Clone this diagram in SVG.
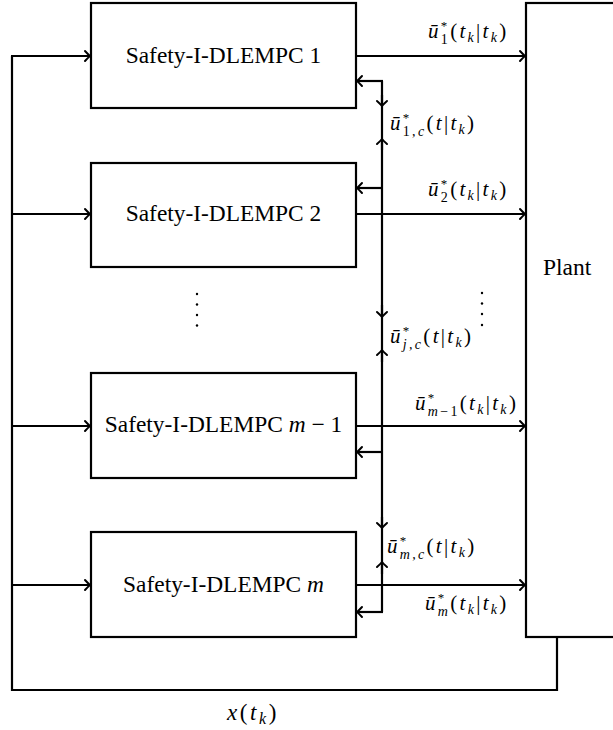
<svg xmlns="http://www.w3.org/2000/svg" width="613" height="730" viewBox="0 0 613 730">
<style>
.box{fill:#fff;stroke:#000;stroke-width:2.2}
.ln{fill:none;stroke:#000;stroke-width:2.2}
.arr{fill:none;stroke:#000;stroke-width:2.2;marker-end:url(#ah)}
text{font-family:"Liberation Serif","Times New Roman",serif;fill:#000}
.tb{font-size:23.4px;text-anchor:middle}
.m{font-size:21px;letter-spacing:2.3px}
.i{font-style:italic}
.s{font-size:14px}
.st{font-size:13px}
</style>
<defs>
<marker id="ah" viewBox="-7 -7 9 14" markerWidth="9" markerHeight="14" refX="0" refY="0" orient="auto" markerUnits="userSpaceOnUse">
<path d="M-5,-5 Q-1.5,-1.2 0,0 Q-1.5,1.2 -5,5" fill="none" stroke="#000" stroke-width="2" stroke-linecap="round"/>
</marker>
</defs>

<g id="connectors">
<path class="ln" d="M557,637 V690 H12 V56"/>
<path class="arr" d="M11,56 H90"/>
<path class="arr" d="M12,214 H90"/>
<path class="arr" d="M12,426 H90"/>
<path class="arr" d="M12,585 H90"/>
<path class="arr" d="M356,56 H525"/>
<path class="arr" d="M356,214 H525"/>
<path class="arr" d="M356,426 H525"/>
<path class="arr" d="M356,585 H525"/>
<path class="ln" d="M382,81 V612"/>
<path class="arr" d="M383,81 H357"/>
<path class="arr" d="M382,188 H357"/>
<path class="arr" d="M382,452 H357"/>
<path class="arr" d="M383,612 H357"/>
<path class="arr" d="M382,95 V106"/>
<path class="arr" d="M382,150 V139"/>
<path class="arr" d="M382,305 V317"/>
<path class="arr" d="M382,362 V350"/>
<path class="arr" d="M382,517 V528"/>
<path class="arr" d="M382,574 V562"/>
</g>

<g id="mpc1"><rect class="box" x="91" y="3" width="265" height="105"/><text class="tb" x="223.5" y="63">Safety-I-DLEMPC 1</text></g>
<g id="mpc2"><rect class="box" x="91" y="163" width="265" height="104"/><text class="tb" x="223.5" y="221">Safety-I-DLEMPC 2</text></g>
<g id="mpcm1"><rect class="box" x="91" y="373" width="265" height="105"/><text class="tb" x="223.5" y="432">Safety-I-DLEMPC <tspan class="i">m</tspan> − 1</text></g>
<g id="mpcm"><rect class="box" x="91" y="532" width="265" height="105"/><text class="tb" x="223.5" y="592">Safety-I-DLEMPC <tspan class="i">m</tspan></text></g>
<g id="plant"><rect class="box" x="526" y="3" width="100" height="634"/><text x="543" y="275" font-size="23.5">Plant</text></g>

<g id="dots" fill="#000">
<circle cx="197" cy="294" r="1.2"/><circle cx="197" cy="304.5" r="1.2"/><circle cx="197" cy="315" r="1.2"/><circle cx="197" cy="325.5" r="1.2"/>
<circle cx="482" cy="293" r="1.2"/><circle cx="482" cy="303.5" r="1.2"/><circle cx="482" cy="314" r="1.2"/><circle cx="482" cy="325" r="1.2"/>
</g>

<g id="labels">
<text class="m" x="428" y="38"><tspan class="i">ū</tspan><tspan class="st" dy="-8">*</tspan><tspan class="s" dx="-8.8" dy="13.5">1</tspan><tspan dy="-5.5">(</tspan><tspan class="i">t</tspan><tspan class="s i" dy="4">k</tspan><tspan dy="-4">|</tspan><tspan class="i">t</tspan><tspan class="s i" dy="4">k</tspan><tspan dy="-4">)</tspan></text>
<text class="m" x="428" y="196"><tspan class="i">ū</tspan><tspan class="st" dy="-8">*</tspan><tspan class="s" dx="-8.8" dy="13.5">2</tspan><tspan dy="-5.5">(</tspan><tspan class="i">t</tspan><tspan class="s i" dy="4">k</tspan><tspan dy="-4">|</tspan><tspan class="i">t</tspan><tspan class="s i" dy="4">k</tspan><tspan dy="-4">)</tspan></text>
<text class="m" x="415" y="410"><tspan class="i">ū</tspan><tspan class="st" dy="-8">*</tspan><tspan class="s i" dx="-8.8" dy="13.5">m</tspan><tspan class="s">−</tspan><tspan class="s">1</tspan><tspan dy="-5.5">(</tspan><tspan class="i">t</tspan><tspan class="s i" dy="4">k</tspan><tspan dy="-4">|</tspan><tspan class="i">t</tspan><tspan class="s i" dy="4">k</tspan><tspan dy="-4">)</tspan></text>
<text class="m" x="425" y="610"><tspan class="i">ū</tspan><tspan class="st" dy="-8">*</tspan><tspan class="s i" dx="-8.8" dy="13.5">m</tspan><tspan dy="-5.5">(</tspan><tspan class="i">t</tspan><tspan class="s i" dy="4">k</tspan><tspan dy="-4">|</tspan><tspan class="i">t</tspan><tspan class="s i" dy="4">k</tspan><tspan dy="-4">)</tspan></text>
<text class="m" x="390" y="130"><tspan class="i">ū</tspan><tspan class="st" dy="-8">*</tspan><tspan class="s" dx="-8.8" dy="13.5">1,<tspan class="i">c</tspan></tspan><tspan dy="-5.5">(</tspan><tspan class="i">t</tspan>|<tspan class="i">t</tspan><tspan class="s i" dy="4">k</tspan><tspan dy="-4">)</tspan></text>
<text class="m" x="390" y="343"><tspan class="i">ū</tspan><tspan class="st" dy="-8">*</tspan><tspan class="s i" dx="-8.8" dy="13.5">j,c</tspan><tspan dy="-5.5">(</tspan><tspan class="i">t</tspan>|<tspan class="i">t</tspan><tspan class="s i" dy="4">k</tspan><tspan dy="-4">)</tspan></text>
<text class="m" x="387" y="553"><tspan class="i">ū</tspan><tspan class="st" dy="-8">*</tspan><tspan class="s i" dx="-8.8" dy="13.5">m,c</tspan><tspan dy="-5.5">(</tspan><tspan class="i">t</tspan>|<tspan class="i">t</tspan><tspan class="s i" dy="4">k</tspan><tspan dy="-4">)</tspan></text>
<text x="227" y="720" font-size="23" letter-spacing="2.6"><tspan class="i">x</tspan>(<tspan class="i">t</tspan><tspan class="i" font-size="16" dy="4">k</tspan><tspan dy="-4">)</tspan></text>
</g>
</svg>
